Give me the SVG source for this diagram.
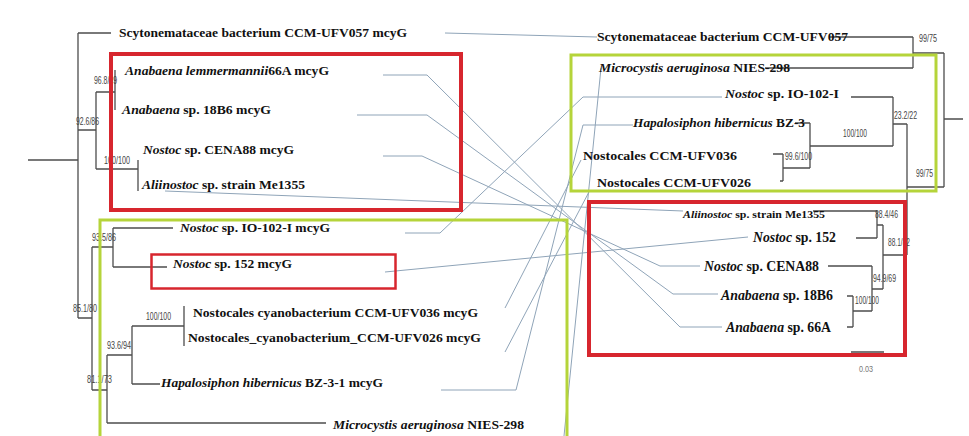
<svg xmlns="http://www.w3.org/2000/svg" width="969" height="436" viewBox="0 0 969 436">
<style>
.tr{stroke:#4d4d4d;stroke-width:1.3;fill:none}
.cn{stroke:#8fa4b8;stroke-width:1;fill:none}
.lb{font-family:"Liberation Serif","Times New Roman",serif;font-weight:bold;font-size:13px;fill:#111}
.it{font-style:italic}
.nd{font-family:"Liberation Sans Narrow","Liberation Sans",Arial,sans-serif;font-size:10.5px;fill:#444}
.sc{font-family:"Liberation Sans Narrow","Liberation Sans",Arial,sans-serif;font-size:9px;fill:#777}
.rb{fill:none;stroke:#d7262e}
.gb{fill:none;stroke:#b5d43a;stroke-width:3}
</style>
<rect width="969" height="436" fill="#fff"/>
<g id="connectors">
<polyline class="cn" points="445,33 597,37"/>
<polyline class="cn" points="383,75 427,75 680,327 722,327"/>
<polyline class="cn" points="357,115 427,115 673,294 718,294"/>
<polyline class="cn" points="383,156 422,156 660,266 700,266"/>
<polyline class="cn" points="165,191 683,211"/>
<polyline class="cn" points="405,233 440,233 583,97 722,97"/>
<polyline class="cn" points="385,272 748,237"/>
<polyline class="cn" points="505,308 581,160"/>
<polyline class="cn" points="505,352 590,190"/>
<polyline class="cn" points="441,390 516,390 583,125 633,125"/>
<polyline class="cn" points="601,68 564,436"/>
</g>
<g id="left-tree">
<path class="tr" d="M28,160H78M78,33V318M78,33H111M78,130H96M96,92V169M96,92H115M115,70V110M96,169H138M138,160V191M78,318H92M92,247V390M92,247H113M113,228V267M113,228H173M113,267H167M92,390H107M107,355V423M107,355H132M132,326V384M132,326H184M184,306V346M132,384H160M107,423H326"/>
</g>
<g id="right-tree">
<path class="tr" d="M830,37H913M765,68H913M913,37V68M913,53H944M944,53V187M944,119H963M907,187H944M907,124V255M893,124H907M893,97V146M851,97H893M810,146H893M810,123V168M795,123H810M783,168H810M783,154V181M773,154H783M780,181H783M883,255H907M883,225V289M877,225H883M877,211V238M813,211H877M856,238H877M872,289H883M872,266V311M828,266H872M853,311H872M853,296V327M847,296H853M847,327H853"/>
<path class="tr" d="M851,352H884" stroke-width="1"/>
<text class="sc" x="859" y="372" textLength="14" lengthAdjust="spacingAndGlyphs">0.03</text>
</g>
<g id="node-labels">
<text class="nd" x="94" y="84" textLength="23" lengthAdjust="spacingAndGlyphs">96.8/89</text>
<text class="nd" x="76" y="125" textLength="23" lengthAdjust="spacingAndGlyphs">92.6/86</text>
<text class="nd" x="104" y="164" textLength="26" lengthAdjust="spacingAndGlyphs">100/100</text>
<text class="nd" x="92" y="241" textLength="24" lengthAdjust="spacingAndGlyphs">93.5/86</text>
<text class="nd" x="73" y="312" textLength="24" lengthAdjust="spacingAndGlyphs">85.1/80</text>
<text class="nd" x="146" y="320" textLength="25" lengthAdjust="spacingAndGlyphs">100/100</text>
<text class="nd" x="107" y="349" textLength="24" lengthAdjust="spacingAndGlyphs">93.6/94</text>
<text class="nd" x="87" y="383" textLength="25" lengthAdjust="spacingAndGlyphs">81.1/73</text>
<text class="nd" x="919" y="42" textLength="18" lengthAdjust="spacingAndGlyphs">99/75</text>
<text class="nd" x="894" y="119" textLength="23" lengthAdjust="spacingAndGlyphs">23.2/22</text>
<text class="nd" x="843" y="137" textLength="24" lengthAdjust="spacingAndGlyphs">100/100</text>
<text class="nd" x="785" y="160" textLength="27" lengthAdjust="spacingAndGlyphs">99.6/100</text>
<text class="nd" x="916" y="177" textLength="17" lengthAdjust="spacingAndGlyphs">99/75</text>
<text class="nd" x="875" y="218" textLength="23" lengthAdjust="spacingAndGlyphs">88.4/46</text>
<text class="nd" x="888" y="246" textLength="22" lengthAdjust="spacingAndGlyphs">88.1/82</text>
<text class="nd" x="873" y="282" textLength="23" lengthAdjust="spacingAndGlyphs">94.9/69</text>
<text class="nd" x="855" y="304" textLength="24" lengthAdjust="spacingAndGlyphs">100/100</text>
</g>
<g id="left-leaves">
<text id="l-scyt" class="lb" x="119" y="37" textLength="288" lengthAdjust="spacingAndGlyphs">Scytonemataceae bacterium CCM-UFV057 mcyG</text>
<text id="l-lemm" class="lb" x="125" y="75" textLength="204" lengthAdjust="spacingAndGlyphs"><tspan class="it">Anabaena lemmermannii</tspan>66A mcyG</text>
<text id="l-18b6" class="lb" x="122" y="114" textLength="149" lengthAdjust="spacingAndGlyphs"><tspan class="it">Anabaena</tspan> sp. 18B6 mcyG</text>
<text id="l-cena" class="lb" x="143" y="154" textLength="151" lengthAdjust="spacingAndGlyphs"><tspan class="it">Nostoc</tspan> sp. CENA88 mcyG</text>
<text id="l-alii" class="lb" x="142" y="189" textLength="163" lengthAdjust="spacingAndGlyphs"><tspan class="it">Aliinostoc</tspan> sp. strain Me1355</text>
<text id="l-io" class="lb" x="180" y="232" textLength="150" lengthAdjust="spacingAndGlyphs"><tspan class="it">Nostoc</tspan> sp. IO-102-I mcyG</text>
<text id="l-152" class="lb" x="173" y="268" textLength="119" lengthAdjust="spacingAndGlyphs"><tspan class="it">Nostoc</tspan> sp. 152 mcyG</text>
<text id="l-036" class="lb" x="193" y="317" textLength="285" lengthAdjust="spacingAndGlyphs">Nostocales cyanobacterium CCM-UFV036 mcyG</text>
<text id="l-026" class="lb" x="188" y="342" textLength="293" lengthAdjust="spacingAndGlyphs">Nostocales_cyanobacterium_CCM-UFV026 mcyG</text>
<text id="l-hapa" class="lb" x="161" y="387" textLength="222" lengthAdjust="spacingAndGlyphs"><tspan class="it">Hapalosiphon hibernicus</tspan> BZ-3-1 mcyG</text>
<text id="l-micro" class="lb" x="333" y="429" textLength="191" lengthAdjust="spacingAndGlyphs"><tspan class="it">Microcystis aeruginosa</tspan> NIES-298</text>
</g>
<g id="right-leaves">
<text id="r-scyt" class="lb" x="597" y="41" textLength="251" lengthAdjust="spacingAndGlyphs">Scytonemataceae bacterium CCM-UFV057</text>
<text id="r-micro" class="lb" x="599" y="72" textLength="191" lengthAdjust="spacingAndGlyphs"><tspan class="it">Microcystis aeruginosa</tspan> NIES-298</text>
<text id="r-io" class="lb" x="725" y="98" textLength="114" lengthAdjust="spacingAndGlyphs"><tspan class="it">Nostoc</tspan> sp. IO-102-I</text>
<text id="r-hapa" class="lb" x="633" y="127" textLength="172" lengthAdjust="spacingAndGlyphs"><tspan class="it">Hapalosiphon hibernicus</tspan> BZ-3</text>
<text id="r-036" class="lb" x="583" y="160" textLength="154" lengthAdjust="spacingAndGlyphs">Nostocales CCM-UFV036</text>
<text id="r-026" class="lb" x="597" y="187" textLength="154" lengthAdjust="spacingAndGlyphs">Nostocales CCM-UFV026</text>
<text id="r-alii" class="lb" x="683" y="218" textLength="142" lengthAdjust="spacingAndGlyphs" style="font-size:11px"><tspan class="it">Aliinostoc</tspan> sp. strain Me1355</text>
<text id="r-152" class="lb" x="753" y="242" textLength="83" lengthAdjust="spacingAndGlyphs" style="font-size:14px"><tspan class="it">Nostoc</tspan> sp. 152</text>
<text id="r-cena" class="lb" x="704" y="271" textLength="115" lengthAdjust="spacingAndGlyphs" style="font-size:14px"><tspan class="it">Nostoc</tspan> sp. CENA88</text>
<text id="r-18b6" class="lb" x="721" y="300" textLength="112" lengthAdjust="spacingAndGlyphs" style="font-size:14px"><tspan class="it">Anabaena</tspan> sp. 18B6</text>
<text id="r-66a" class="lb" x="726" y="332" textLength="105" lengthAdjust="spacingAndGlyphs" style="font-size:14px"><tspan class="it">Anabaena</tspan> sp. 66A</text>
</g>
<g id="boxes">
<rect class="gb" x="100" y="220" width="467" height="225"/>
<rect class="gb" x="571" y="55" width="365" height="136"/>
<rect class="rb" x="111" y="54" width="350" height="156" stroke-width="4"/>
<rect class="rb" x="151.5" y="254.5" width="244" height="34" stroke-width="2.5"/>
<rect class="rb" x="589" y="202" width="316" height="153" stroke-width="4"/>
</g>
</svg>
